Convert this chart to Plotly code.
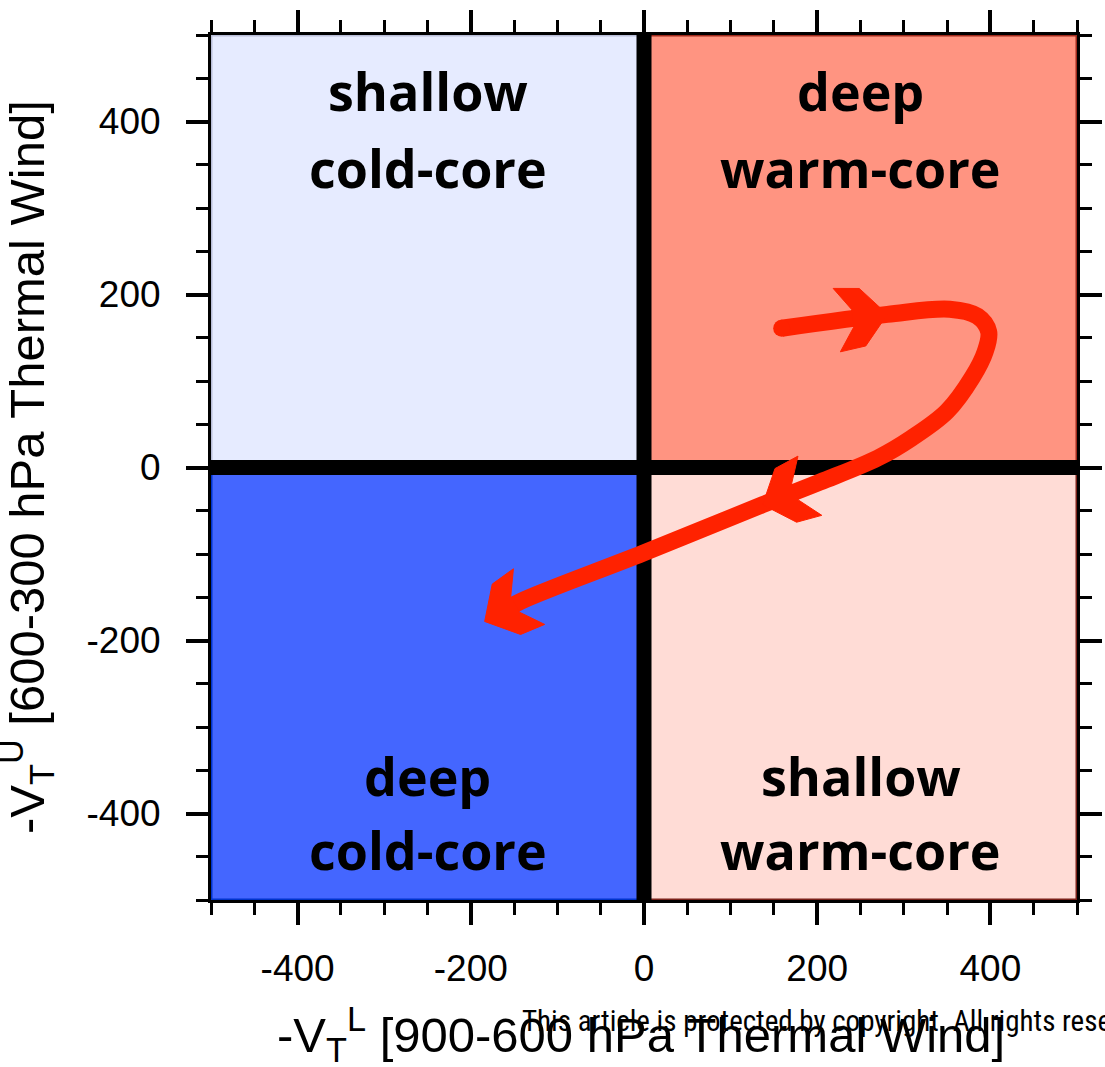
import numpy as np
import plotly.graph_objects as go

# ---- data -------------------------------------------------------------
# cyclone-phase trajectory (lower-tropospheric vs upper-tropospheric thermal wind)
path_x = [159, 281, 353, 385, 398, 394, 379, 350, 309, 270, 203, 137, -1, -143, -184]
path_y = [161, 177, 183, 175, 157, 134, 104, 65, 34, 11, -17, -43, -99, -155, -178]
arrow_idx = [1, 11]          # interior arrowheads (path indices)

tick_vals = [-400, -200, 0, 200, 400]
tick_text = ["-400", "-200", "0", "200", "400"]

quad_names = ["shallow<br>cold-core", "deep<br>warm-core", "deep<br>cold-core", "shallow<br>warm-core"]
quad_x = [-250, 250, -250, 250]
quad_top = [True, True, False, False]
quad_colors = ["#E6EBFF", "#FF9481", "#4466FF", "#FFDCD6"]
quad_edges = ["#B9BED8", "#A02A1C", "#0033CC", "#7A2018"]
quad_x0 = [-500, 0, -500, 0]
quad_y0 = [0, 0, -500, -500]

RED = "#FF2200"
PX = 0.8675  # pixels per data unit (for arrowhead sizing)

# ---- helpers ------------------------------------------------------------
def arrowhead(tx, ty, dx, dy):
    n = np.hypot(dx, dy)
    dx, dy = dx / n, dy / n
    nx, ny = -dy, dx
    local = [(0, 0), (-25, 29), (-51, 32), (-35, 9), (-35, -9), (-51, -32), (-25, -29), (0, 0)]
    xs = [tx + (u * dx + v * nx) / PX for u, v in local]
    ys = [ty + (u * dy + v * ny) / PX for u, v in local]
    return xs, ys

fig = go.Figure()

# quadrant backgrounds
shapes = []
for c, e, x0, y0 in zip(quad_colors, quad_edges, quad_x0, quad_y0):
    shapes.append(dict(type="rect", xref="x", yref="y", x0=x0, x1=x0 + 500, y0=y0, y1=y0 + 500,
                       fillcolor=c, line=dict(color=e, width=3), layer="below"))
# thick zero lines
shapes.append(dict(type="line", xref="x", yref="y", x0=-500, x1=500, y0=0, y1=0,
                   line=dict(color="black", width=15), layer="below"))
shapes.append(dict(type="line", xref="x", yref="y", x0=0, x1=0, y0=-500, y1=500,
                   line=dict(color="black", width=15), layer="below"))

# shaft (trim end so the arrow tip stays sharp)
px = np.array(path_x, float)
py = np.array(path_y, float)
dxe, dye = px[-1] - px[-2], py[-1] - py[-2]
ne = np.hypot(dxe, dye)
sx = list(px[:-1]) + [px[-1] - dxe / ne * 18 / PX]
sy = list(py[:-1]) + [py[-1] - dye / ne * 18 / PX]
fig.add_trace(go.Scatter(x=sx, y=sy, mode="lines",
                         line=dict(color=RED, width=17, shape="spline", smoothing=1.0),
                         hoverinfo="skip", showlegend=False))
fig.add_trace(go.Scatter(x=[path_x[0]], y=[path_y[0]], mode="markers",
                         marker=dict(color=RED, size=17, line=dict(width=0)),
                         hoverinfo="skip", showlegend=False))

heads = []
for i in arrow_idx:
    heads.append(arrowhead(px[i], py[i], px[i + 1] - px[i - 1], py[i + 1] - py[i - 1]))
heads.append(arrowhead(px[-1], py[-1], dxe, dye))
for hx, hy in heads:
    fig.add_trace(go.Scatter(x=hx, y=hy, mode="lines", fill="toself", fillcolor=RED,
                             line=dict(color=RED, width=1), hoverinfo="skip", showlegend=False))

# quadrant labels
annotations = []
for name, qx, top in zip(quad_names, quad_x, quad_top):
    l1, l2 = name.split("<br>")
    y1, y2 = (436, 347) if top else (-356, -442)
    for txt, yy in ((l1, y1), (l2, y2)):
        annotations.append(dict(x=qx, y=yy, xref="x", yref="y", text=txt, showarrow=False,
                                xanchor="center", yanchor="middle",
                                font=dict(family="Open Sans", size=52, color="black", weight="bold")))

# axis titles
annotations.append(dict(x=0.497, y=-0.155, xref="paper", yref="paper",
                        text="-V<sub>T</sub><sup>L</sup> [900-600 hPa Thermal Wind]",
                        showarrow=False, xanchor="center", yanchor="middle",
                        font=dict(family="Liberation Sans", size=49, color="black")))
annotations.append(dict(x=-0.213, y=0.5, xref="paper", yref="paper", textangle=-90,
                        text="-V<sub>T</sub><sup>U</sup> [600-300 hPa Thermal Wind]",
                        showarrow=False, xanchor="center", yanchor="middle",
                        font=dict(family="Liberation Sans", size=49, color="black")))
# watermark
annotations.append(dict(x=(520 - 211) / 866, y=(900 - 1021) / 865, xref="paper", yref="paper",
                        text="This article is protected by copyright. All rights reserved.",
                        showarrow=False, xanchor="left", yanchor="middle",
                        font=dict(family="Liberation Sans Narrow, Roboto Condensed, Roboto", size=29,
                                  color="black")))

axis_common = dict(
    range=[-500, 500], tickvals=tick_vals, ticktext=tick_text,
    ticks="outside", ticklen=22, tickwidth=4, tickcolor="black",
    showline=True, linewidth=3, linecolor="black", mirror="ticks",
    showgrid=False, zeroline=False, automargin=False,
    tickfont=dict(family="Liberation Sans", size=37, color="black"),
    minor=dict(dtick=50, tick0=0, ticks="outside", ticklen=12, tickwidth=3, tickcolor="black",
               showgrid=False),
)

fig.update_layout(
    width=1105, height=1067,
    margin=dict(l=211, r=28, t=35, b=167, autoexpand=False),
    paper_bgcolor="white", plot_bgcolor="white",
    shapes=shapes, annotations=annotations,
    xaxis=dict(**axis_common, ticklabelstandoff=12),
    yaxis=dict(**axis_common, ticklabelstandoff=18),
    showlegend=False,
)

fig.write_html("out.html")
